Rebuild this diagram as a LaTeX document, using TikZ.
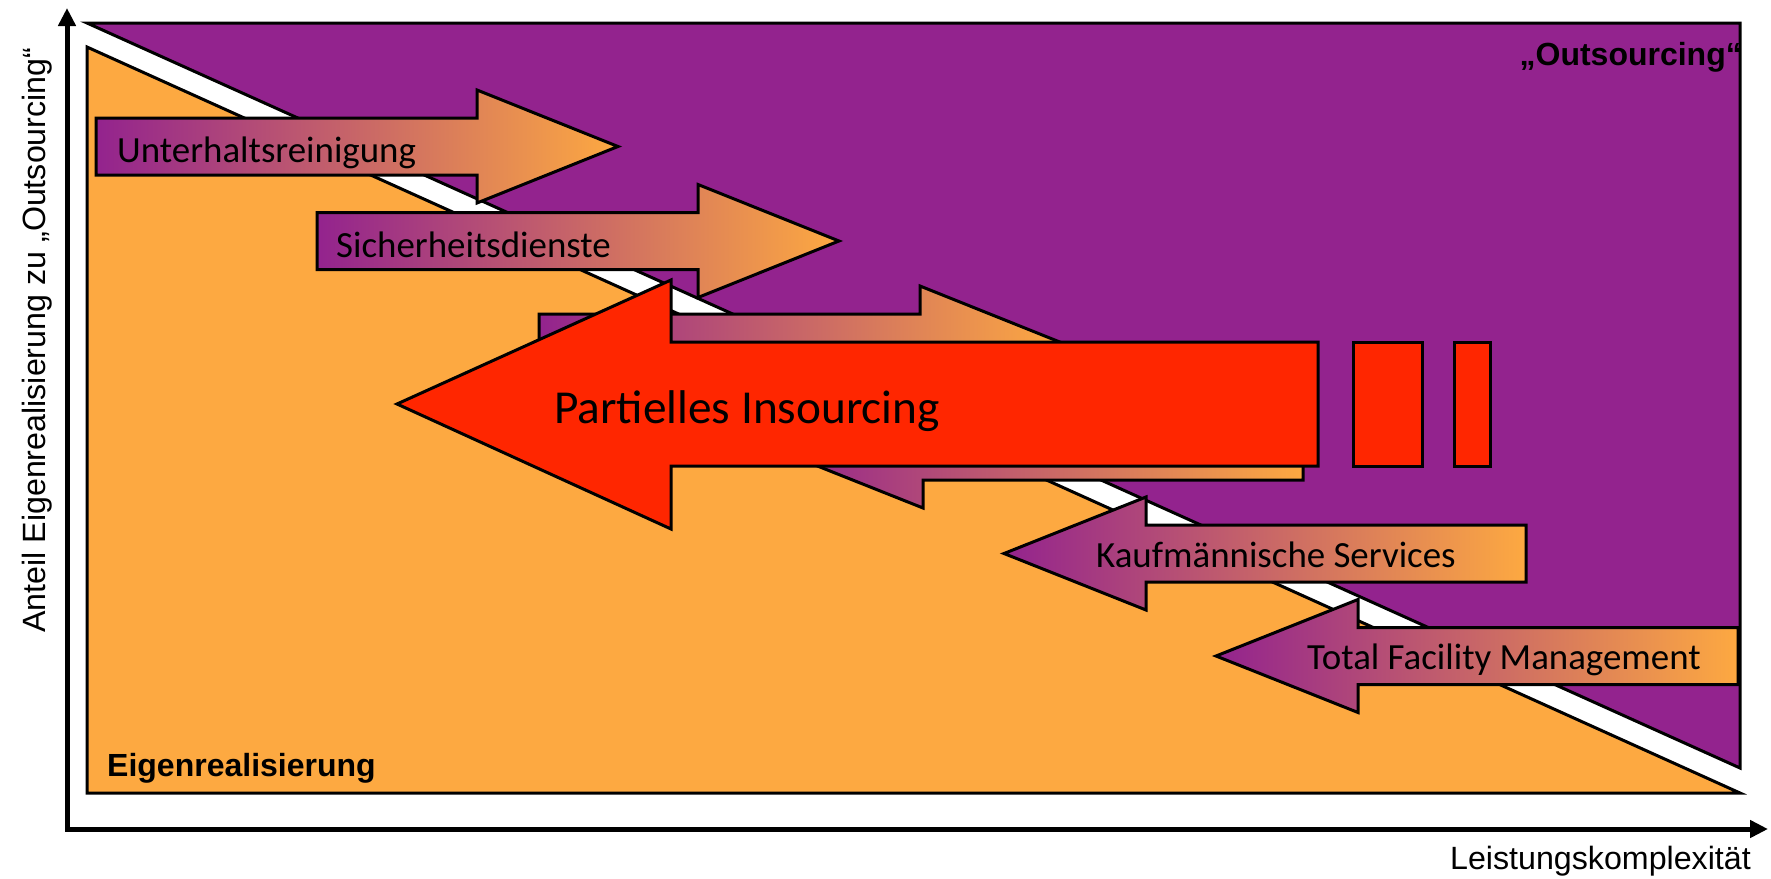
\documentclass[tikz,border=0pt]{standalone}
\usepackage{fontspec}
\setmainfont{Liberation Sans}
\newfontfamily\calib{Carlito}
\usetikzlibrary{arrows.meta}
\definecolor{fmpurple}{RGB}{147,35,142}
\definecolor{fmorange}{RGB}{253,169,65}
\definecolor{fmred}{RGB}{255,38,0}

% block arrow pointing right: #1 = left end of the shaft, #2 = centre line
\newcommand{\myRArrow}[2]{({#1},{#2-28.5}) -- ({#1+381},{#2-28.5}) -- ({#1+381},{#2-56.5})
  -- ({#1+522},{#2}) -- ({#1+381},{#2+56.5}) -- ({#1+381},{#2+28.5}) -- ({#1},{#2+28.5}) -- cycle}
% block arrow pointing left: #1 = tip, #2 = centre line
\newcommand{\myLArrow}[2]{({#1},{#2}) -- ({#1+142},{#2-56.5}) -- ({#1+142},{#2-28.5})
  -- ({#1+522},{#2-28.5}) -- ({#1+522},{#2+28.5}) -- ({#1+142},{#2+28.5}) -- ({#1+142},{#2+56.5}) -- cycle}

\begin{document}
\begin{tikzpicture}[x=1pt,y=-1pt,
  outline/.style={draw=black,line width=3pt,line join=miter},
  service/.style={outline,left color=fmpurple,right color=fmorange},
  svclabel/.style={font=\calib\fontsize{36.9}{44}\selectfont,inner sep=0pt,anchor=base west},
  biglabel/.style={font=\calib\fontsize{47.3}{56}\selectfont,inner sep=0pt,anchor=base west},
  zonelabel/.style={font=\bfseries\fontsize{32}{38}\selectfont,inner sep=0pt},
  axislabel/.style={font=\fontsize{32.2}{38}\selectfont,inner sep=0pt},
  axisline/.style={line width=5pt,line join=miter,
    {Triangle[length=18pt,width=17pt]}-{Triangle[length=18pt,width=17pt]}},
]
\useasboundingbox (0,0) rectangle (1771,878);

% regions: outsourcing (upper right) and in-house (lower left)
\draw[outline,fill=fmpurple] (87,23) -- (1740,23) -- (1740,768) -- cycle;
\draw[outline,fill=fmorange] (87,47) -- (87,793) -- (1740,793) -- cycle;

% service arrows along the diagonal
\path[service] \myRArrow{96}{146.5};
\path[service] \myRArrow{317}{241};
\path[service] \myRArrow{539}{342.5};
\path[service] \myLArrow{781}{451.5};
\path[service] \myLArrow{1004}{553.5};
\path[service] \myLArrow{1216}{656};

\node[svclabel] (unterhalt) at (117,162) {Unterhaltsreinigung};
\node[svclabel] (sicherheit) at (336,257) {Sicherheitsdienste};
\node[svclabel] (kaufm) at (1096,567) {Kaufmännische Services};
\node[svclabel] (tfm) at (1307,669) {Total Facility Management};

% partial insourcing arrow with trailing blocks
\draw[outline,fill=fmred] (397,404) -- (671,280) -- (671,342) -- (1318,342)
  -- (1318,466) -- (671,466) -- (671,529) -- cycle;
\draw[outline,fill=fmred] (1353,342) rectangle (1422,466);
\draw[outline,fill=fmred] (1454,342) rectangle (1490,466);
\node[biglabel] (insourcing) at (554,423) {Partielles Insourcing};

% region labels
\node[zonelabel,anchor=base east] (outs) at (1742,65) {„Outsourcing“};
\node[zonelabel,anchor=base west] (eigen) at (107,776) {Eigenrealisierung};

% axes
\coordinate (origin) at (67,829);
\coordinate (ytop) at (67,8);
\coordinate (xend) at (1768,829);
\draw[axisline] (ytop) -- (origin) -- (xend);
\node[axislabel,anchor=base east] (xlab) at (1751,869) {Leistungskomplexität};
\node[axislabel,rotate=90,anchor=base west] (ylab) at (45,633) {Anteil Eigenrealisierung zu „Outsourcing“};
\end{tikzpicture}
\end{document}
